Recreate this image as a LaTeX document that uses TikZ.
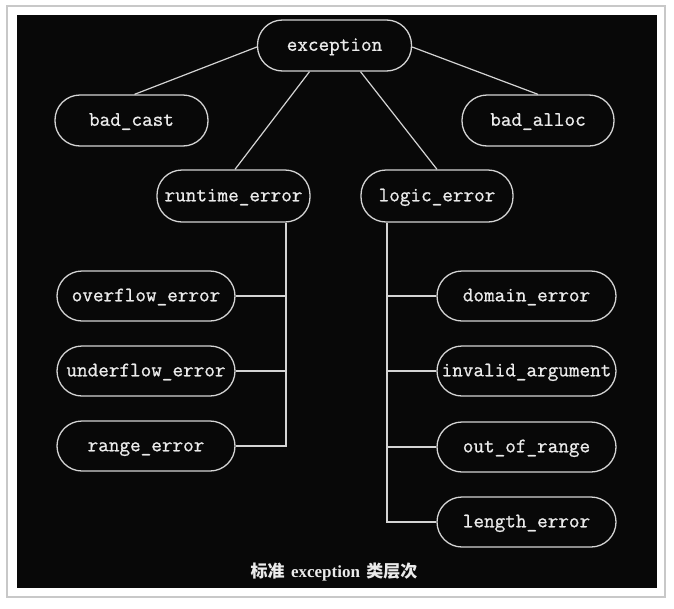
\documentclass[tikz,border=0pt]{standalone}
\usepackage{fontspec}
\newfontfamily\nodemono{Latin Modern Mono}[FakeBold=0.9]
\newfontfamily\capserif{Liberation Serif}
\newfontfamily\cjk{Noto Sans CJK SC}
\usetikzlibrary{calc}
\definecolor{fg}{HTML}{EBEBEB}
\definecolor{ln}{HTML}{D4D4D4}
\definecolor{frame}{HTML}{C8C8C8}
\tikzset{
  cls/.style={draw=ln, line width=1.3pt, rounded corners=25pt, inner sep=0pt,
    text=fg, font=\nodemono\fontsize{20.6}{22}\selectfont,
    text height=12pt, text depth=1.4pt,
    minimum height=51pt, minimum width=153pt},
  wide/.style={cls, minimum width=178pt, minimum height=50pt},
  conn/.style={draw=ln, line width=1.2pt},
}
\begin{document}
\begin{tikzpicture}[x=1pt,y=-1pt]
\useasboundingbox (0,0) rectangle (674,608);
\fill[white] (0,0) rectangle (674,608);
\draw[frame, line width=1.5pt, fill=white] (7,6) rectangle (665,597);
\fill[black!97] (17,15) rectangle (657,588);

\node[cls, minimum width=154pt] (exc) at (334.5,45.5) {exception};
\node[cls] (bc) at (131.5,120.5) {bad\_cast};
\node[cls, minimum width=152pt] (ba) at (538,120.5) {bad\_alloc};
\node[cls, minimum height=52pt] (rt) at (233.5,196) {runtime\_error};
\node[cls, minimum width=152pt, minimum height=52pt] (le) at (437,196) {logic\_error};

\node[wide] (ov) at (146,296) {overflow\_error};
\node[wide] (un) at (146,371) {underflow\_error};
\node[wide] (ra) at (146,446) {range\_error};

\node[wide, minimum width=179pt] (do) at (526.5,296) {domain\_error};
\node[wide, minimum width=179pt] (ia) at (526.5,371) {invalid\_argument};
\node[wide, minimum width=179pt] (oo) at (526.5,447) {out\_of\_range};
\node[wide, minimum width=179pt] (len) at (526.5,522) {length\_error};

\draw[conn] ([yshift=-1.5pt]exc.west) -- ([xshift=3pt]bc.north);
\draw[conn] ([yshift=-1.5pt]exc.east) -- (ba.north);
\draw[conn] ([xshift=-25pt]exc.south) -- ([xshift=1.5pt]rt.north);
\draw[conn] ([xshift=26pt]exc.south) -- (le.north);

\coordinate (lv) at ([xshift=52.5pt]rt.south);
\coordinate (rv) at ([xshift=-50pt]le.south);
\draw[conn] (lv) |- (ra.east);
\draw[conn] (ov.east) -- (ov.east -| lv);
\draw[conn] (un.east) -- (un.east -| lv);
\draw[conn] (rv) |- (len.west);
\draw[conn] (do.west) -- (do.west -| rv);
\draw[conn] (ia.west) -- (ia.west -| rv);
\draw[conn] (oo.west) -- (oo.west -| rv);

\node[text=fg, font=\fontsize{17}{20}\selectfont\bfseries, inner sep=0pt] (cap) at (334,572)
  {{\cjk\bfseries 标准} {\capserif\bfseries exception} {\cjk\bfseries 类层次}};
\end{tikzpicture}
\end{document}
